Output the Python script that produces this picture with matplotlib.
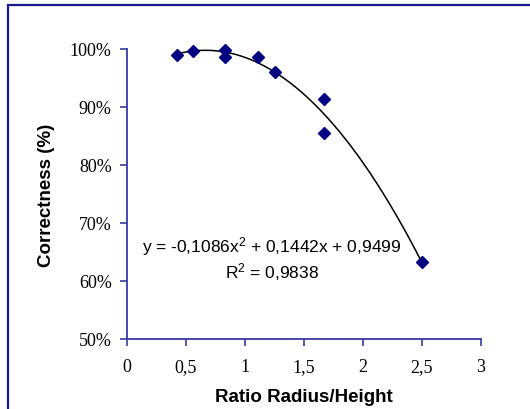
import numpy as np
import matplotlib
matplotlib.use("Agg")
import matplotlib.pyplot as plt
from matplotlib.patches import Rectangle
from matplotlib.ticker import FuncFormatter

plt.rcParams["mathtext.fontset"] = "custom"
plt.rcParams["mathtext.rm"] = "Liberation Sans"
plt.rcParams["mathtext.it"] = "Liberation Sans:italic"

# data
ratio = [0.42, 0.56, 0.83, 0.83, 1.11, 1.25, 1.67, 1.67, 2.5]
correctness = [0.990, 0.996, 0.999, 0.986, 0.987, 0.960, 0.913, 0.856, 0.633]
coef = [-0.1086, 0.1442, 0.9499]
x_ticks = [0, 0.5, 1, 1.5, 2, 2.5, 3]
y_ticks = [0.5, 0.6, 0.7, 0.8, 0.9, 1.0]

navy = "#000080"
axis_col = "#3a3aa0"

fig = plt.figure(figsize=(5.3, 4.1), dpi=100)
ax = fig.add_axes([127 / 530, 1 - 340 / 410, 354 / 530, 290 / 410])

# outer frame (cut at right/bottom like the original)
fig.patches.append(Rectangle((8 / 530, -0.05), 1.1, 1 - 6 / 410 + 0.05,
                             transform=fig.transFigure, fill=False,
                             edgecolor="#1a1a8c", linewidth=1.6))

# trend line
xs = np.linspace(min(ratio), max(ratio), 200)
ax.plot(xs, np.polyval(coef, xs), color="black", linewidth=1.1, zorder=2)

ax.plot(ratio, correctness, linestyle="none", marker="D", markersize=6,
        color=navy, zorder=3, clip_on=False)

ax.set_xlim(0, 3)
ax.set_ylim(0.5, 1.0)
ax.set_xticks(x_ticks)
ax.set_yticks(y_ticks)
ax.xaxis.set_major_formatter(FuncFormatter(lambda v, p: ("%g" % v).replace(".", ",")))
ax.yaxis.set_major_formatter(FuncFormatter(lambda v, p: "%d%%" % round(v * 100)))

for s in ["top", "right"]:
    ax.spines[s].set_visible(False)
for s in ["left", "bottom"]:
    ax.spines[s].set_color(axis_col)
    ax.spines[s].set_linewidth(1.3)
ax.tick_params(direction="out", length=5, width=1.2, color=axis_col,
               labelsize=13, pad=6)
for lab in ax.get_xticklabels() + ax.get_yticklabels():
    lab.set_fontfamily("Liberation Serif")
ax.tick_params(axis="x", pad=9)

ax.set_xlabel("Ratio Radius/Height", fontfamily="Liberation Sans",
              fontweight="bold", fontsize=13.5, labelpad=9)
ax.set_ylabel("Correctness (%)", fontfamily="Liberation Sans",
              fontweight="bold", fontsize=13.5, labelpad=11)

ax.text(1.226, 0.661, "y = -0,1086x$^2$ + 0,1442x + 0,9499", ha="center", va="center",
        fontsize=12.5, fontfamily="Liberation Sans")
ax.text(1.226, 0.618, "R$^2$ = 0,9838", ha="center", va="center",
        fontsize=12.5, fontfamily="Liberation Sans")

fig.savefig("out.png", dpi=100)
